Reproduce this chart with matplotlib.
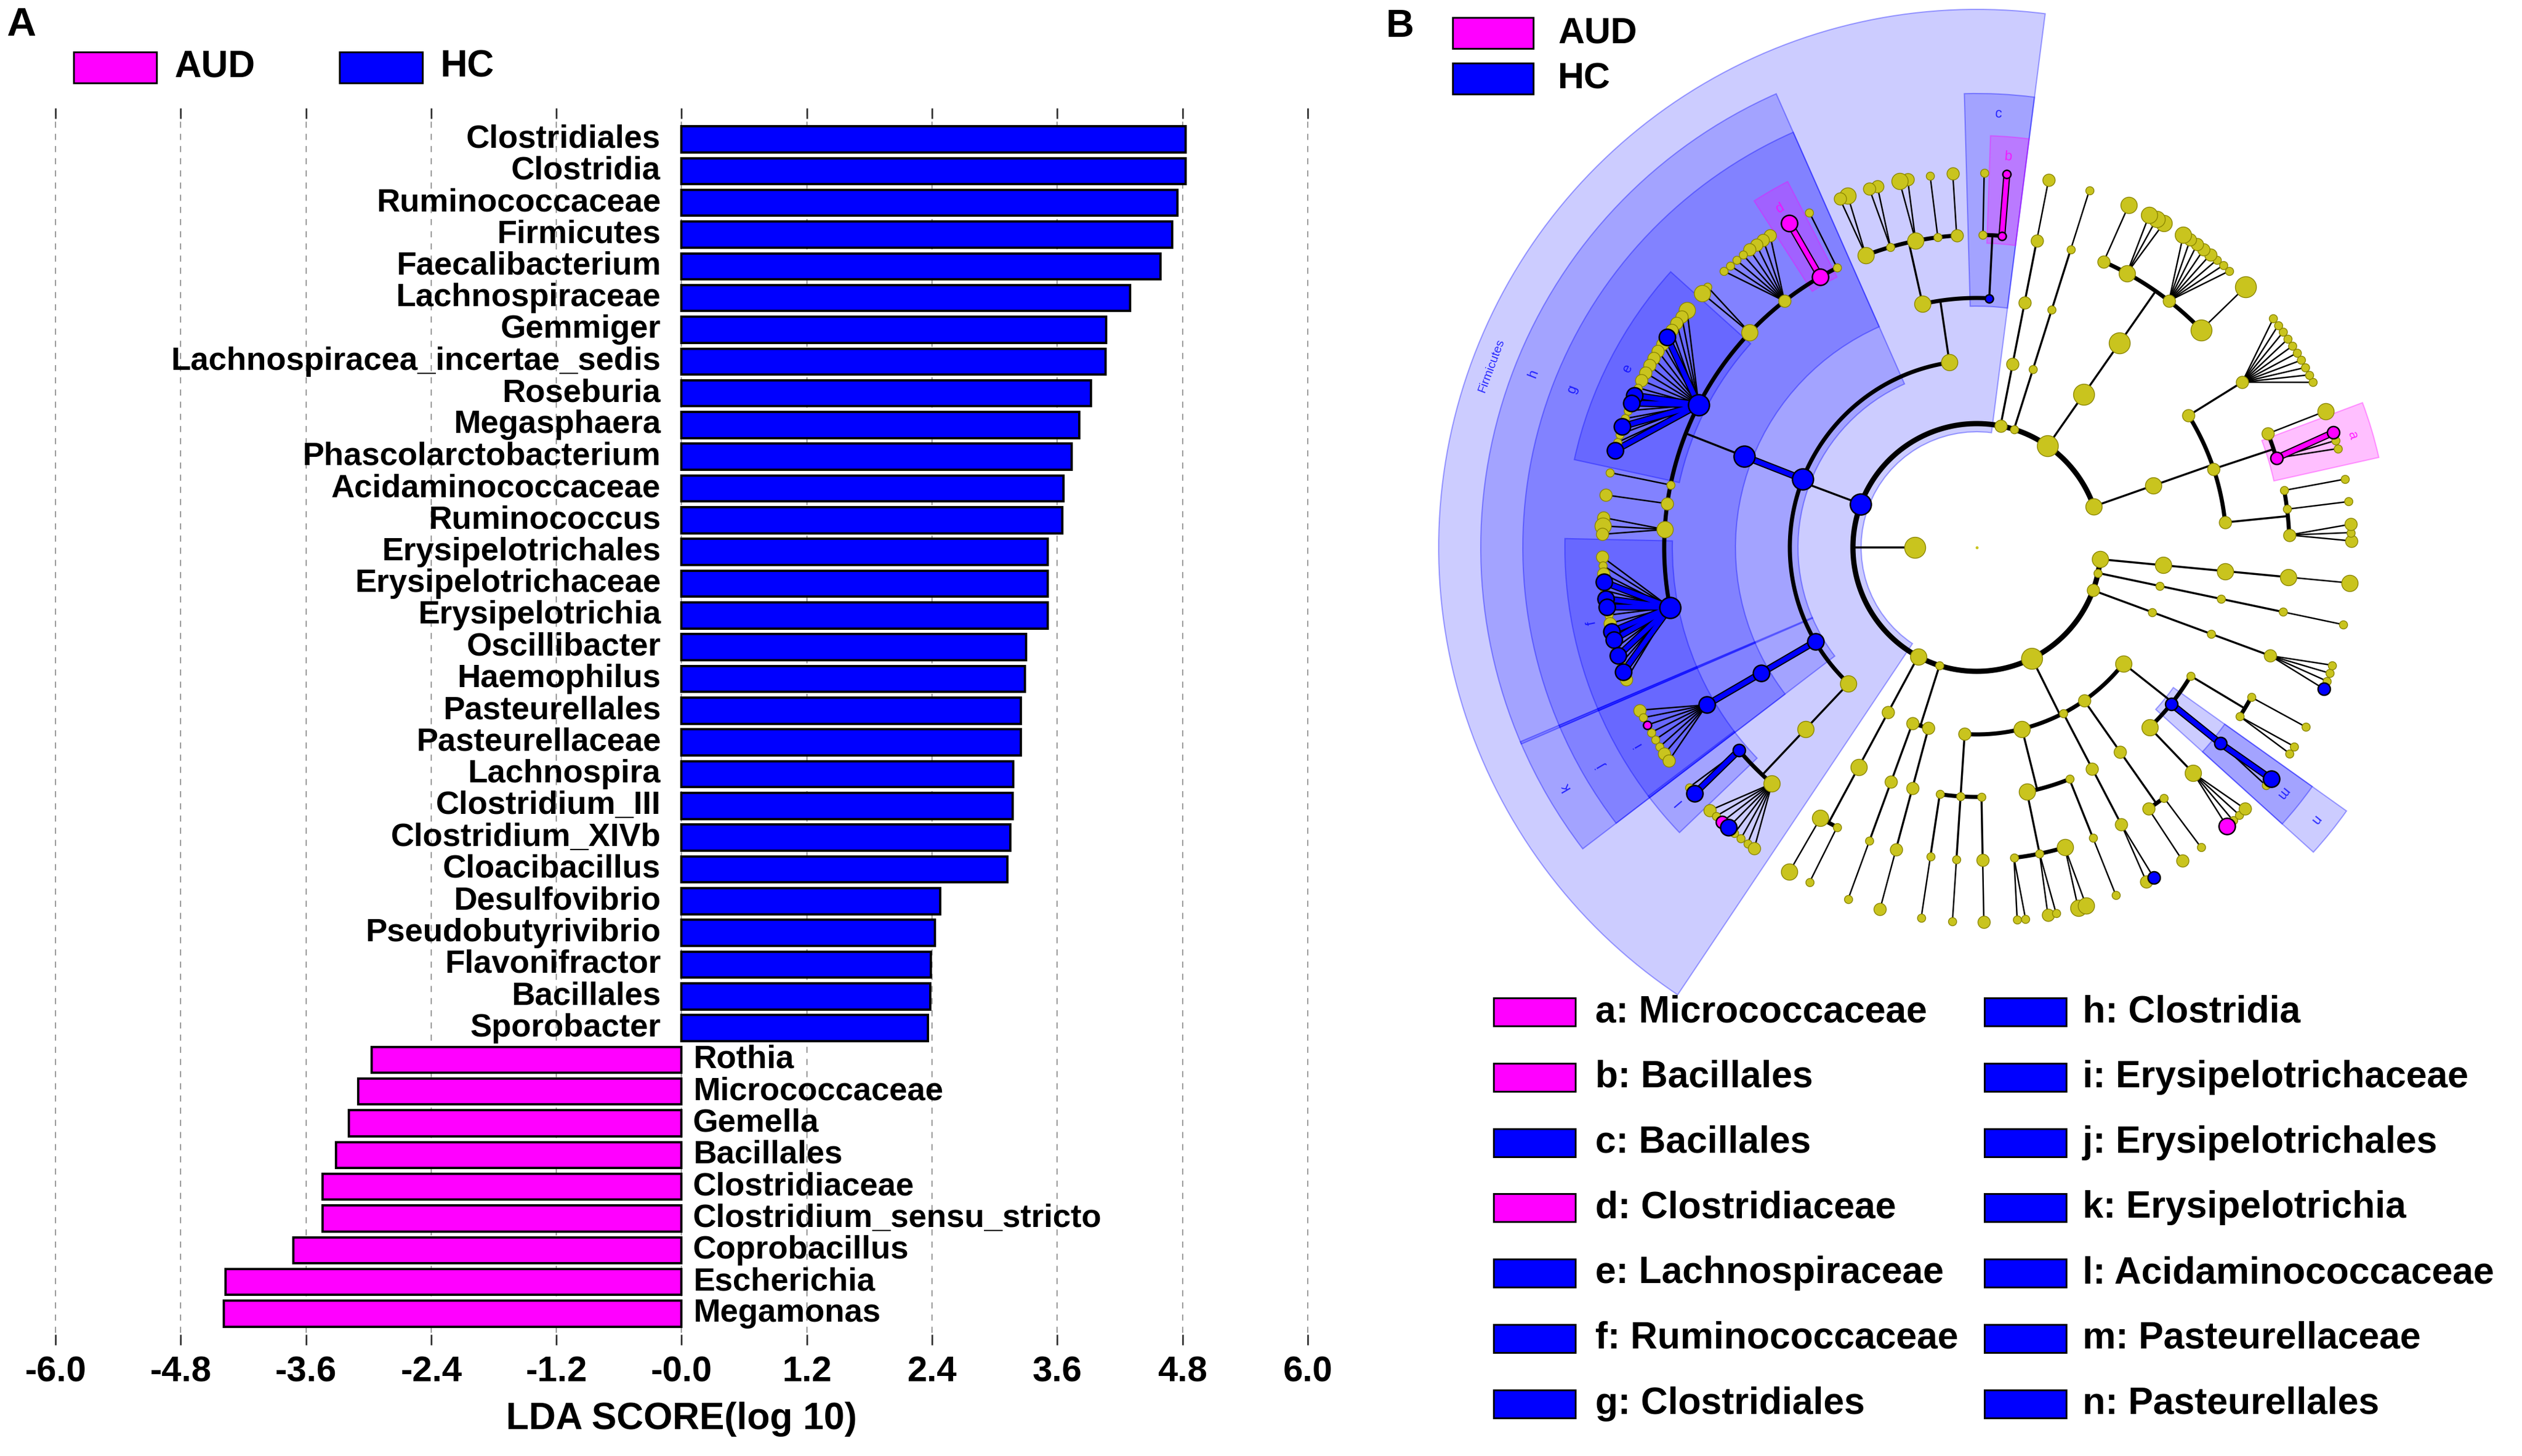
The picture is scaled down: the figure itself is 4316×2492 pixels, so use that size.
import numpy as np
import matplotlib
matplotlib.use("Agg")
import matplotlib.pyplot as plt
from matplotlib.patches import Rectangle, Wedge

plt.rcParams["font.family"] = ["Liberation Sans", "DejaVu Sans"]

W, H = 4316, 2492
GROUP_COLOUR = {"AUD": "#FF00FF", "HC": "#0000FF"}

# ---------------- panel A: LDA scores ----------------
HC_TAXA = [
    "Clostridiales", "Clostridia", "Ruminococcaceae", "Firmicutes", "Faecalibacterium",
    "Lachnospiraceae", "Gemmiger", "Lachnospiracea_incertae_sedis", "Roseburia",
    "Megasphaera", "Phascolarctobacterium", "Acidaminococcaceae", "Ruminococcus",
    "Erysipelotrichales", "Erysipelotrichaceae", "Erysipelotrichia", "Oscillibacter",
    "Haemophilus", "Pasteurellales", "Pasteurellaceae", "Lachnospira", "Clostridium_III",
    "Clostridium_XIVb", "Cloacibacillus", "Desulfovibrio", "Pseudobutyrivibrio",
    "Flavonifractor", "Bacillales", "Sporobacter",
]
HC_LDA = [4.83, 4.83, 4.75, 4.70, 4.59, 4.30, 4.07, 4.06, 3.92, 3.81, 3.74, 3.66, 3.65,
          3.51, 3.51, 3.51, 3.30, 3.29, 3.25, 3.25, 3.18, 3.17, 3.15, 3.12, 2.48, 2.43,
          2.39, 2.38, 2.36]
AUD_TAXA = ["Rothia", "Micrococcaceae", "Gemella", "Bacillales", "Clostridiaceae",
            "Clostridium_sensu_stricto", "Coprobacillus", "Escherichia", "Megamonas"]
AUD_LDA = [-2.97, -3.10, -3.19, -3.31, -3.44, -3.44, -3.72, -4.37, -4.39]

XTICKS = [-6.0, -4.8, -3.6, -2.4, -1.2, 0.0, 1.2, 2.4, 3.6, 4.8, 6.0]
XTICK_LABELS = ["-6.0", "-4.8", "-3.6", "-2.4", "-1.2", "-0.0", "1.2", "2.4", "3.6", "4.8", "6.0"]

# ---------------- panel B: cladogram ----------------
# one list per phylum, depth-first, counter-clockwise
# (rank level, "size+colour[:label]") ; rank 5 may hold several genera
ACTINOBACTERIA = [
    (1, "ly"), (2, "ly"),
    (3, "my"), (4, "my"), (5, "my sy my"), (4, "sy"), (5, "sy"), (4, "sy"), (5, "sy"),
    (3, "my"), (4, "mp:a"), (5, "sy sy mp"), (4, "my"), (5, "ly"),
    (3, "my"), (4, "my"), (5, "sy sy sy sy sy sy sy sy sy sy"),
]
PHYLUM_2 = [
    (1, "xy"), (2, "xy"), (3, "xy"),
    (4, "xy"), (5, "xy"),
    (4, "my"), (5, "sy sy sy my my my my ly"),
    (4, "ly"), (5, "ly ly ly"),
    (4, "my"), (5, "ly"),
]
PHYLUM_3 = [(1, "sy"), (2, "sy"), (3, "sy"), (4, "sy"), (5, "sy")]
PHYLUM_4 = [(1, "my"), (2, "my"), (3, "my"), (4, "my"), (5, "my")]
FIRMICUTES = [
    (1, "xb:Firmicutes"),
    (2, "ly"),
    (3, "sb:c"), (4, "sp:b"), (5, "sp"), (4, "sy"), (5, "sy"),
    (3, "ly"), (4, "my"), (5, "my"), (4, "sy"), (5, "sy"), (4, "ly"), (5, "my ly"),
    (4, "sy"), (5, "my my"), (4, "ly"), (5, "ly my"),
    (2, "xb:h"), (3, "xb:g"),
    (4, "sy"), (5, "sy"),
    (4, "lp:d"), (5, "lp"),
    (4, "my"), (5, "my my my my sy sy sy sy"),
    (4, "ly"), (5, "sy ly"),
    (4, "xb:e"), (5, "ly my my my lb my my my my my my sy lb lb sy sy lb sy sy lb"),
    (4, "sy"), (5, "sy"),
    (4, "my"), (5, "my"),
    (4, "ly"), (5, "my ly my"),
    (4, "xb:f"), (5, "my sy my lb sy lb lb sy my lb lb sy lb sy lb my"),
    (2, "lb:k"), (3, "lb:j"), (4, "lb:i"), (5, "my sy sp sy sy sy my my"),
    (2, "ly"), (3, "ly"), (4, "mb:l"), (5, "sy lb"), (4, "ly"), (5, "my sy mp lb sy sy sy my"),
]
PHYLUM_6 = [(1, "ly"), (2, "my"), (3, "ly"), (4, "ly"), (5, "ly"), (4, "sy"), (5, "sy")]
PHYLUM_7 = [(1, "sy"), (2, "my"), (3, "my"), (4, "sy"), (5, "sy"),
            (2, "my"), (3, "my"), (4, "my"), (5, "my")]
PROTEOBACTERIA = [
    (1, "xy"),
    (2, "my"), (3, "sy"), (4, "sy"), (5, "sy"), (3, "sy"), (4, "sy"), (5, "sy"),
    (3, "sy"), (4, "my"), (5, "my"),
    (2, "ly"), (3, "ly"), (4, "sy"), (5, "sy sy"), (4, "sy"), (5, "my sy"), (4, "ly"), (5, "ly ly"),
    (3, "sy"), (4, "sy"), (5, "sy"),
    (2, "sy"), (3, "my"), (4, "my"), (5, "my mb"),
    (2, "my"), (3, "my"), (4, "my"), (5, "my"), (4, "sy"), (5, "sy"),
    (2, "ly"), (3, "ly"), (4, "ly"), (5, "lp sy sy my"),
    (3, "mb:n"), (4, "mb:m"), (5, "sy lb"),
    (3, "sy"), (4, "sy"), (5, "sy sy"), (4, "sy"), (5, "sy"),
]
PHYLUM_9 = [(1, "my"), (2, "sy"), (3, "sy"), (4, "my"), (5, "mb sy sy sy")]
PHYLUM_10 = [(1, "sy"), (2, "sy"), (3, "sy"), (4, "sy"), (5, "sy")]
PHYLUM_11 = [(1, "ly"), (2, "ly"), (3, "ly"), (4, "ly"), (5, "ly")]
PHYLA = [ACTINOBACTERIA, PHYLUM_2, PHYLUM_3, PHYLUM_4, FIRMICUTES, PHYLUM_6,
         PHYLUM_7, PROTEOBACTERIA, PHYLUM_9, PHYLUM_10, PHYLUM_11]

LEGEND_B = ["a: Micrococcaceae", "b: Bacillales", "c: Bacillales", "d: Clostridiaceae",
            "e: Lachnospiraceae", "f: Ruminococcaceae", "g: Clostridiales", "h: Clostridia",
            "i: Erysipelotrichaceae", "j: Erysipelotrichales", "k: Erysipelotrichia",
            "l: Acidaminococcaceae", "m: Pasteurellaceae", "n: Pasteurellales"]
LEGEND_B_GROUP = ["AUD", "AUD", "HC", "AUD"] + ["HC"] * 10

# layout of the cladogram (pixels)
CX, CY = 3383, H - 937
RADII = [0, 212, 320, 427, 535, 641]
SPACING = {0: 6.3, 1: 5.0, 2: 4.7, 3: 3.4, 4: 1.25}   # angular step by common-ancestor rank
START = 1.0
NODE_R = {"s": 7, "m": 10.5, "l": 14, "x": 18}
NODE_COL = {"y": "#C9C41E", "b": "#0000FF", "p": "#FF00FF"}
PX = 0.72  # points per pixel at dpi 100


def main():
    fig = plt.figure(figsize=(W / 100, H / 100), dpi=100)

    # ---- panel A ----
    ppu = (2238 - 95) / 12.0
    left = 95 - 0.1 * ppu
    right = 2238 + 0.1 * ppu
    ax = fig.add_axes([left / W, 1 - 2302 / H, (right - left) / W, (2302 - 185) / H])
    names = HC_TAXA + AUD_TAXA
    vals = HC_LDA + AUD_LDA
    n = len(names)
    ypos = np.arange(n)[::-1]
    cols = [GROUP_COLOUR["HC"]] * len(HC_TAXA) + [GROUP_COLOUR["AUD"]] * len(AUD_TAXA)
    ax.barh(ypos, vals, height=0.82, color=cols, edgecolor="black", linewidth=2.8, zorder=3)
    for y, v, name in zip(ypos, vals, names):
        if v > 0:
            ax.text(-0.2, y, name, ha="right", va="center", fontsize=40, fontweight="bold")
        else:
            ax.text(0.11, y, name, ha="left", va="center", fontsize=40, fontweight="bold")
    ax.set_xlim(-6.1, 6.1)
    ax.set_ylim(-0.985, n - 1 + 0.985)
    ax.set_xticks(XTICKS)
    ax.set_xticklabels(XTICK_LABELS, fontweight="bold")
    ax.tick_params(axis="x", top=True, bottom=True, direction="in", length=13, width=2,
                   color="#333333", labelsize=44, pad=13)
    ax.tick_params(axis="y", left=False, labelleft=False)
    for s in ax.spines.values():
        s.set_visible(False)
    ax.set_axisbelow(True)
    ax.grid(axis="x", linestyle=(0, (5, 5)), color="#9A9A9A", lw=1.5)
    ax.set_xlabel("LDA SCORE(log 10)", fontsize=46, fontweight="bold", labelpad=16)

    # ---- overlay in pixel coordinates ----
    ov = fig.add_axes([0, 0, 1, 1], zorder=5)
    ov.set_xlim(0, W)
    ov.set_ylim(0, H)
    ov.axis("off")
    ov.patch.set_alpha(0)

    ov.text(11, H - 43, "A", fontsize=50, fontweight="bold", ha="left", va="center")
    for x0, tx, g in [(126, 298, "AUD"), (581, 754, "HC")]:
        ov.add_patch(Rectangle((x0, H - 142), 142, 53, fc=GROUP_COLOUR[g], ec="black", lw=2.2))
        ov.text(tx, H - 115, g, fontsize=46, fontweight="bold", ha="left", va="center")

    ov.text(2371, H - 46, "B", fontsize=48, fontweight="bold", ha="left", va="center")
    for y0, g in [(30, "AUD"), (108, "HC")]:
        ov.add_patch(Rectangle((2486, H - y0 - 53), 138, 53, fc=GROUP_COLOUR[g], ec="black", lw=2.2))
        ov.text(2666, H - y0 - 27, g, fontsize=45, fontweight="bold", ha="left", va="center")

    # legend under cladogram
    for k, (lab, g) in enumerate(zip(LEGEND_B, LEGEND_B_GROUP)):
        col, row = divmod(k, 7)
        yc = H - (1732 + 111.8 * row)
        bx = 2556 if col == 0 else 3396
        tx = 2730 if col == 0 else 3564
        ov.add_patch(Rectangle((bx, yc - 24), 140, 48, fc=GROUP_COLOUR[g], ec="black", lw=2.2))
        ov.text(tx, yc, lab, fontsize=46, fontweight="bold", ha="left", va="center")

    # ---- build tree ----
    nodes = [dict(level=0, size="s", col="y", label=None, parent=None, children=[])]
    for spec in PHYLA:
        stack = [0]
        for level, code in spec:
            for tok in code.split():
                sc, _, lab = tok.partition(":")
                while nodes[stack[-1]]["level"] >= level:
                    stack.pop()
                par = stack[-1]
                nodes.append(dict(level=level, size=sc[0], col=sc[1], label=lab or None,
                                  parent=par, children=[]))
                nodes[par]["children"].append(len(nodes) - 1)
                stack.append(len(nodes) - 1)

    def lineage(i):
        out = []
        while i is not None:
            out.append(i)
            i = nodes[i]["parent"]
        return out[::-1]

    leaves = [i for i, nd in enumerate(nodes) if not nd["children"] and nd["level"] > 0]
    gaps = []
    for a, b in zip(leaves[:-1], leaves[1:]):
        la, lb = lineage(a), lineage(b)
        k = 0
        while k < min(len(la), len(lb)) and la[k] == lb[k]:
            k += 1
        gaps.append(SPACING[nodes[la[k - 1]]["level"]])
    scale = 360.0 / (sum(gaps) + SPACING[0])
    theta = {leaves[0]: START}
    for prev, leaf, g in zip(leaves[:-1], leaves[1:], gaps):
        theta[leaf] = theta[prev] + g * scale
    lo, hi = {}, {}
    for i in reversed(range(len(nodes))):
        ch = nodes[i]["children"]
        if not ch:
            lo[i] = hi[i] = theta[i]
        else:
            lo[i] = min(lo[c] for c in ch)
            hi[i] = max(hi[c] for c in ch)
            theta[i] = 0.5 * (lo[i] + hi[i])

    def pt(r, t):
        t = np.radians(t)
        return CX + r * np.cos(t), CY + r * np.sin(t)

    def arc(r, t0, t1, lw):
        t = np.radians(np.linspace(t0, t1, max(2, int(abs(t1 - t0) * 4))))
        ov.plot(CX + r * np.cos(t), CY + r * np.sin(t), color="black", lw=lw,
                solid_capstyle="round", zorder=2)

    def seg(p0, p1, lw, colour=None):
        xs, ys = [p0[0], p1[0]], [p0[1], p1[1]]
        if colour:
            ov.plot(xs, ys, color="black", lw=12 * PX, solid_capstyle="round", zorder=3)
            ov.plot(xs, ys, color=colour, lw=8 * PX, solid_capstyle="round", zorder=3.1)
        else:
            ov.plot(xs, ys, color="black", lw=lw, solid_capstyle="round", zorder=2)

    # highlighted clade shading
    for i, nd in enumerate(nodes):
        if not nd["label"]:
            continue
        L = nd["level"]
        r_out = 705 + (4 - L) * 72
        r_in = RADII[L] - 14
        t0, t1 = lo[i] - 2.7, hi[i] + 2.7
        rgb = NODE_COL[nd["col"]]
        alpha = 0.2 if nd["col"] == "b" else 0.25
        ov.add_patch(Wedge((CX, CY), r_out, t0, t1, width=r_out - r_in,
                           fc=matplotlib.colors.to_rgba(rgb, alpha),
                           ec=matplotlib.colors.to_rgba(rgb, 0.35), lw=1.5, zorder=1))
        tm = 0.5 * (t0 + t1)
        lx, ly = pt(r_out - 34, tm)
        ov.text(lx, ly, nd["label"], color=rgb, fontsize=17 if len(nd["label"]) == 1 else 15,
                rotation=tm - 90, ha="center", va="center", alpha=0.8, zorder=6)

    # branches
    for i, nd in enumerate(nodes):
        ch = nd["children"]
        if not ch:
            continue
        cl = nodes[ch[0]]["level"]
        rc = RADII[cl]
        if nd["level"] == 0:
            arc(rc, min(theta[c] for c in ch), max(theta[c] for c in ch), 9 * PX)
            continue
        rp = RADII[nd["level"]]
        if len(ch) == 1 or cl == 5:
            for c in ch:
                hl = nd["col"] != "y" and nodes[c]["col"] == nd["col"]
                seg(pt(rp, theta[i]), pt(rc, theta[c]), (2.5 if cl == 5 else 3.5) * PX,
                    NODE_COL[nd["col"]] if hl else None)
        else:
            arc(rc, min(theta[c] for c in ch), max(theta[c] for c in ch), 7 * PX)
            seg(pt(rp, theta[i]), pt(rc, theta[i]), 3.5 * PX)

    # unplaced phylum inside the ring
    seg(pt(RADII[1], 180), pt(RADII[1] / 2, 180), 3.5 * PX)
    x, y = pt(RADII[1] / 2, 180)
    ov.scatter([x], [y], s=(2 * NODE_R["x"] * PX) ** 2, c=NODE_COL["y"], edgecolors="#8A8500",
               linewidths=1, zorder=4)
    ov.scatter([CX], [CY], s=(2 * 2.5 * PX) ** 2, c=NODE_COL["y"], linewidths=0, zorder=4)

    # nodes
    for i, nd in enumerate(nodes):
        if nd["level"] == 0:
            continue
        x, y = pt(RADII[nd["level"]], theta[i])
        s = (2 * NODE_R[nd["size"]] * PX) ** 2
        if nd["col"] == "y":
            ov.scatter([x], [y], s=s, c=NODE_COL["y"], edgecolors="#8A8500", linewidths=1, zorder=4)
        else:
            ov.scatter([x], [y], s=s, c=NODE_COL[nd["col"]], edgecolors="black",
                       linewidths=2.5 * PX, zorder=5)

    fig.savefig("out.png", dpi=100)


if __name__ == "__main__":
    main()
